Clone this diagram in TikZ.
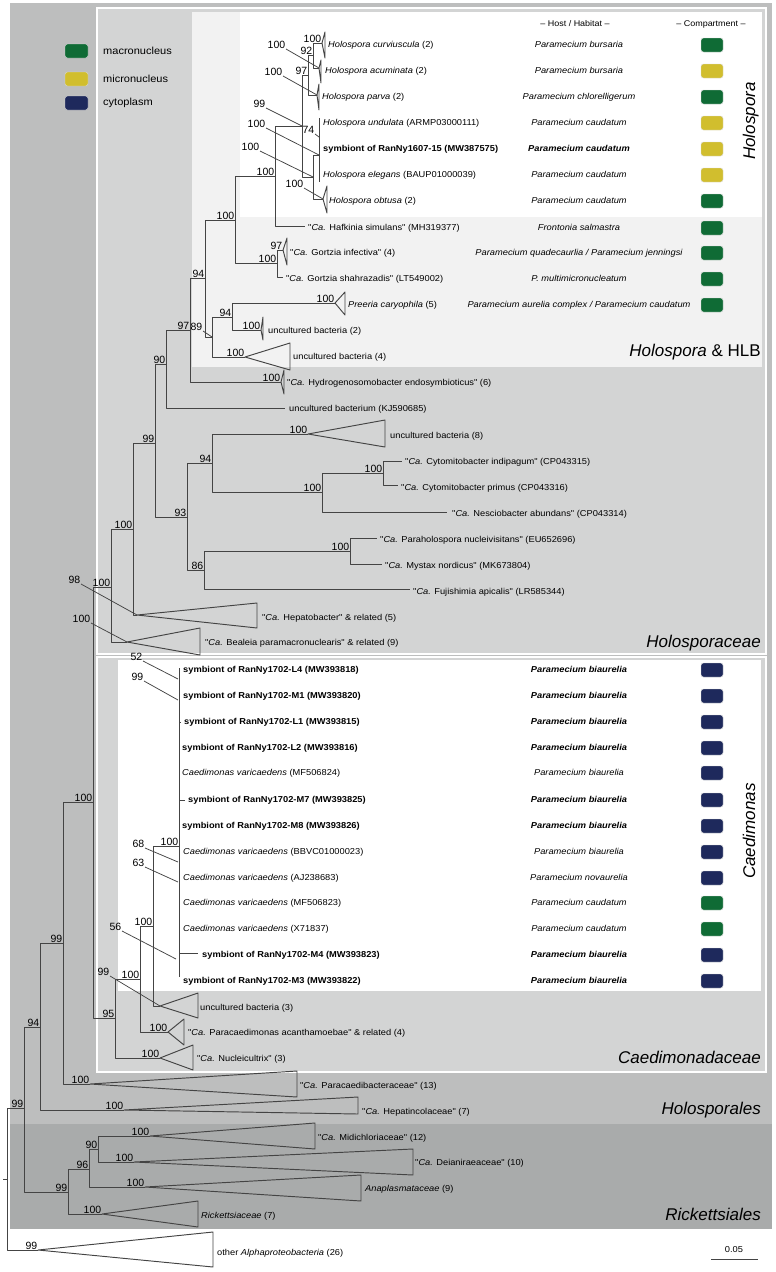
\documentclass[tikz,border=0pt]{standalone}
\usepackage{fontspec}
\setmainfont{Liberation Sans}
\newfontfamily\myleaf[FakeStretch=1.08]{Liberation Sans}
\newcommand\leaffont{\myleaf\fontsize{8.6}{10}\selectfont}
\newcommand\hdrfont{\myleaf\fontsize{8.3}{10}\selectfont}
\newcommand\supfont{\fontsize{10.5}{12}\selectfont}
\newcommand\bigfont{\fontsize{17}{20}\selectfont}
\newcommand\legfont{\myleaf\fontsize{10.2}{12}\selectfont}
\definecolor{cHol}{HTML}{BDBEBE}
\definecolor{cHpc}{HTML}{D3D4D4}
\definecolor{cHLB}{HTML}{F2F2F2}
\definecolor{cRick}{HTML}{A9ABAB}
\definecolor{linec}{HTML}{444444}
\definecolor{cmac}{HTML}{0F6B35}
\definecolor{cmic}{HTML}{D1BE2E}
\definecolor{ccyt}{HTML}{1E295C}
\begin{document}
\begin{tikzpicture}[x=1pt,y=-1pt,
  br/.style={draw=linec, line width=0.95pt, line join=round},
  ld/.style={draw=linec, line width=0.75pt},
  bs/.style={font=\supfont, inner sep=0.6pt, anchor=south east},
  lf/.style={font=\leaffont, anchor=west, inner sep=0pt, text height=6.3pt, text depth=1.8pt},
  hostt/.style={font=\leaffont\itshape, inner sep=0pt, text height=6.3pt, text depth=1.8pt},
  hostb/.style={font=\leaffont\itshape\bfseries, inner sep=0pt, text height=6.3pt, text depth=1.8pt},
  cbox/.style={rounded corners=2.5pt, minimum width=22pt, minimum height=14pt, inner sep=0pt, draw=black!15, line width=0.4pt},
  grp/.style={font=\bigfont, inner sep=0pt, anchor=base east},
  grpv/.style={font=\bigfont\itshape, inner sep=0pt, anchor=base, rotate=90},
  reg/.style={draw=white, line width=1.5pt}
]
\useasboundingbox (0,0) rectangle (776,1272);
% ---------- backgrounds
\fill[cHol] (10,3) rectangle (772,1124);
\fill[cRick] (10,1124) rectangle (772,1229);
\filldraw[reg, fill=cHpc] (97,8) rectangle (766,654);
\filldraw[reg, fill=cHpc] (97,657) rectangle (766,1072);
\fill[cHLB] (192,12) rectangle (762,367);
\fill[white] (240,12) rectangle (762,217);
\fill[white] (118,660) rectangle (761,991);

% ---------- coordinates
\coordinate (root) at (7,1179);
\coordinate (rootS) at (3,1179);
\coordinate (oA) at (38,1250);
\coordinate (nA) at (24,1108);
\coordinate (nHS) at (40,1027);
\coordinate (hepA) at (124,1110);
\coordinate (n99b) at (63,943);
\coordinate (pcA) at (90,1084);
\coordinate (n100c) at (93,802);
\coordinate (nHpc) at (111,587);
\coordinate (bealA) at (127,642);
\coordinate (n100d) at (133,529);
\coordinate (hepbA) at (137,615);
\coordinate (n99e) at (155,443);
\coordinate (n90) at (166,364);
\coordinate (tKJ) at (285,408);
\coordinate (n97) at (190,330);
\coordinate (hydro) at (281,382);
\coordinate (n94a) at (205,278);
\coordinate (n89) at (212,337);
\coordinate (n94b) at (232,317);
\coordinate (preA) at (335,303);
\coordinate (unc2) at (261,330);
\coordinate (unc4A) at (245,357);
\coordinate (n100f) at (235,220);
\coordinate (nGor) at (277,263);
\coordinate (gorI) at (283,250);
\coordinate (gorS) at (283,277);
\coordinate (n100g) at (275,176);
\coordinate (tHaf) at (305,226);
\coordinate (nHol) at (302,126);
\coordinate (n97h) at (308,75);
\coordinate (n92) at (313,55);
\coordinate (tCurv) at (322,43);
\coordinate (tAcum) at (319,68);
\coordinate (tParv) at (317,95);
\coordinate (nC) at (313,177);
\coordinate (nD) at (319,155);
\coordinate (nDt) at (319,118);
\coordinate (nDb) at (319,182);
\coordinate (c74) at (319,137);
\coordinate (tObt) at (323,199);
\coordinate (n93) at (187,517);
\coordinate (n94c) at (212,463);
\coordinate (unc8A) at (308,434);
\coordinate (n100h) at (322,492);
\coordinate (nCyt) at (383,473);
\coordinate (tInd) at (402,461);
\coordinate (tPri) at (398,485);
\coordinate (tNes) at (447,512);
\coordinate (n86) at (204,570);
\coordinate (n100i) at (350,551);
\coordinate (tPar) at (377,538);
\coordinate (tMys) at (382,564);
\coordinate (tFuj) at (410,589);
\coordinate (nCdc) at (115,1018);
\coordinate (n100j) at (140,979);
\coordinate (n100k) at (153,926);
\coordinate (nCae) at (179,846);
\coordinate (cTop) at (179,668);
\coordinate (cBot) at (179,977);
\coordinate (unc3A) at (160,1006);
\coordinate (paraA) at (168,1032);
\coordinate (nuclA) at (160,1058);
\coordinate (nRk) at (68,1192);
\coordinate (n96) at (89,1169);
\coordinate (n90b) at (98,1149);
\coordinate (midA) at (150,1136);
\coordinate (deiA) at (134,1162);
\coordinate (anaA) at (145,1187);
\coordinate (rickA) at (102,1214);
\coordinate (c52) at (178,679);
\coordinate (c99m) at (178,700);
\coordinate (c68) at (178,862);
\coordinate (c63) at (178,882);
\coordinate (c56) at (176,959);

% ---------- branches
\draw[br] (rootS) -- (root);
\draw[br] (root) |- (nA) (root) |- (oA);
\draw[br] (nA) |- (nHS) (nA) |- (nRk);
\draw[br] (nHS) |- (n99b) (nHS) |- (hepA);
\draw[br] (n99b) |- (n100c) (n99b) |- (pcA);
\draw[br] (n100c) |- (nHpc) (n100c) |- (nCdc);
\draw[br] (nHpc) |- (n100d) (nHpc) |- (bealA);
\draw[br] (n100d) |- (n99e) (n100d) |- (hepbA);
\draw[br] (n99e) |- (n90) (n99e) |- (n93);
\draw[br] (n90) |- (n97) (n90) |- (tKJ);
\draw[br] (n97) |- (n94a) (n97) |- (hydro);
\draw[br] (n94a) |- (n100f) (n94a) |- (n89);
\draw[br] (n89) |- (n94b) (n89) |- (unc4A);
\draw[br] (n94b) |- (preA) (n94b) |- (unc2);
\draw[br] (n100f) |- (n100g) (n100f) |- (nGor);
\draw[br] (nGor) |- (gorI) (nGor) |- (gorS);
\draw[br] (n100g) |- (nHol) (n100g) |- (tHaf);
\draw[br] (nHol) |- (n97h) (nHol) |- (nC);
\draw[br] (n97h) |- (n92) (n97h) |- (tParv);
\draw[br] (n92) |- (tCurv) (n92) |- (tAcum);
\draw[br] (nC) |- (nD) (nC) |- (tObt);
\draw[br] (nDt) -- (nDb);
\draw[br] (n93) |- (n94c) (n93) |- (n86);
\draw[br] (n94c) |- (unc8A) (n94c) |- (n100h);
\draw[br] (n100h) |- (nCyt) (n100h) |- (tNes);
\draw[br] (nCyt) |- (tInd) (nCyt) |- (tPri);
\draw[br] (n86) |- (n100i) (n86) |- (tFuj);
\draw[br] (n100i) |- (tPar) (n100i) |- (tMys);
\draw[br] (nCdc) |- (n100j) (nCdc) |- (nuclA);
\draw[br] (n100j) |- (n100k) (n100j) |- (paraA);
\draw[br] (n100k) |- (nCae) (n100k) |- (unc3A);
\draw[br] (cTop) -- (cBot);
\draw[br] (179,800) -- (185,800);
\draw[br] (179,953) -- (198,953);
\draw[br] (179,722) -- (181,722);
\draw[br] (nRk) |- (n96) (nRk) |- (rickA);
\draw[br] (n96) |- (n90b) (n96) |- (anaA);
\draw[br] (n90b) |- (midA) (n90b) |- (deiA);

% ---------- collapsed clades
\draw[br] (tCurv) -- (325,32) -- (325,58) -- cycle;
\draw[br] (tAcum) -- (321,60) -- (321,83) -- cycle;
\draw[br] (tParv) -- (319,84) -- (319,110) -- cycle;
\draw[br] (tObt) -- (327,186) -- (327,213) -- cycle;
\draw[br] (gorI) -- (287,238) -- (287,265) -- cycle;
\draw[br] (preA) -- (345,292) -- (345,315) -- cycle;
\draw[br] (unc2) -- (263,317) -- (263,340) -- cycle;
\draw[br] (unc4A) -- (290,343) -- (290,370) -- cycle;
\draw[br] (hydro) -- (284,370) -- (284,394) -- cycle;
\draw[br] (unc8A) -- (385,420) -- (385,447) -- cycle;
\draw[br] (hepbA) -- (257,603) -- (257,628) -- cycle;
\draw[br] (bealA) -- (200,628) -- (200,655) -- cycle;
\draw[br] (unc3A) -- (198,993) -- (198,1018) -- cycle;
\draw[br] (paraA) -- (184,1019) -- (184,1045) -- cycle;
\draw[br] (nuclA) -- (193,1045) -- (193,1070) -- cycle;
\draw[br] (pcA) -- (297,1071) -- (297,1097) -- cycle;
\draw[br] (hepA) -- (358,1097) -- (358,1114) -- cycle;
\draw[br] (midA) -- (315,1123) -- (315,1149) -- cycle;
\draw[br] (deiA) -- (413,1149) -- (413,1175) -- cycle;
\draw[br] (anaA) -- (361,1175) -- (361,1201) -- cycle;
\draw[br] (rickA) -- (198,1201) -- (198,1227) -- cycle;
\draw[br] (oA) -- (213,1232) -- (213,1267) -- cycle;

% ---------- support values
\node[bs] (s1) at (nA) {99};
\node[bs] (s2) at (nHS) {94};
\node[bs] (s3) at (n99b) {99};
\node[bs] (s4) at (n100c) {100};
\node[bs] (s5) at (nHpc) {100};
\node[bs] (s6) at (n100d) {100};
\node[bs] (s7) at (n99e) {99};
\node[bs] (s8) at (n90) {90};
\node[bs] (s9) at (n97) {97};
\node[bs] (s10) at (n94a) {94};
\node[bs] (s11) at (n94b) {94};
\node[bs] (s12) at (preA) {100};
\node[bs] (s13) at (unc2) {100};
\node[bs] (s14) at (unc4A) {100};
\node[bs] (s15) at (hydro) {100};
\node[bs] (s16) at (n100f) {100};
\node[bs] (s17) at (nGor) {100};
\node[bs] (s18) at (gorI) {97};
\node[bs] (s19) at (n100g) {100};
\node[bs] (s20) at (n97h) {97};
\node[bs] (s21) at (n92) {92};
\node[bs] (s22) at (tCurv) {100};
\node[bs] (s23) at (n93) {93};
\node[bs] (s24) at (n94c) {94};
\node[bs] (s25) at (unc8A) {100};
\node[bs] (s26) at (n100h) {100};
\node[bs] (s27) at (nCyt) {100};
\node[bs] (s28) at (n86) {86};
\node[bs] (s29) at (n100i) {100};
\node[bs] (s30) at (nCdc) {95};
\node[bs] (s31) at (n100j) {100};
\node[bs] (s32) at (n100k) {100};
\node[bs] (s33) at (nCae) {100};
\node[bs] (s34) at (paraA) {100};
\node[bs] (s35) at (nuclA) {100};
\node[bs] (s36) at (pcA) {100};
\node[bs] (s37) at (hepA) {100};
\node[bs] (s38) at (nRk) {99};
\node[bs] (s39) at (n96) {96};
\node[bs] (s40) at (n90b) {90};
\node[bs] (s41) at (midA) {100};
\node[bs] (s42) at (deiA) {100};
\node[bs] (s43) at (anaA) {100};
\node[bs] (s44) at (rickA) {100};
\node[bs] (s45) at (oA) {99};
% leader labels
\node[bs] (lAc) at (286,49) {100}; \draw[ld] (lAc.south east) -- (tAcum);
\node[bs] (lPa) at (283,76) {100}; \draw[ld] (lPa.south east) -- (tParv);
\node[bs] (lHol) at (266,108) {99}; \draw[ld] (lHol.south east) -- (nHol);
\node[bs] (l74) at (315,134) {74}; \draw[ld] (l74.south east) -- (c74);
\node[bs] (lD) at (266,128) {100}; \draw[ld] (lD.south east) -- (nD);
\node[bs] (lC) at (260,151) {100}; \draw[ld] (lC.south east) -- (nC);
\node[bs] (lOb) at (304,188) {100}; \draw[ld] (lOb.south east) -- (tObt);
\node[bs] (l89) at (203,331) {89}; \draw[ld] (l89.south east) -- (n89);
\node[bs] (l98) at (81,584) {98}; \draw[ld] (l98.south east) -- (hepbA);
\node[bs] (lBe) at (91,623) {100}; \draw[ld] (lBe.south east) -- (bealA);
\node[bs] (l52) at (143,661) {52}; \draw[ld] (l52.south east) -- (c52);
\node[bs] (l99m) at (144,681) {99}; \draw[ld] (l99m.south east) -- (c99m);
\node[bs] (l68) at (145,848) {68}; \draw[ld] (l68.south east) -- (c68);
\node[bs] (l63) at (145,867) {63}; \draw[ld] (l63.south east) -- (c63);
\node[bs] (l56) at (122,931) {56}; \draw[ld] (l56.south east) -- (c56);
\node[bs] (l99u) at (110,976) {99}; \draw[ld] (l99u.south east) -- (unc3A);

% ---------- leaf labels
\node[lf] (t1) at (328,45) {\textit{Holospora curviuscula} (2)};
\node[lf] (t2) at (325,71) {\textit{Holospora acuminata} (2)};
\node[lf] (t3) at (322,97) {\textit{Holospora parva} (2)};
\node[lf] (t4) at (323,123) {\textit{Holospora undulata} (ARMP03000111)};
\node[lf] (t5) at (323,149) {\textbf{symbiont of RanNy1607-15 (MW387575)}};
\node[lf] (t6) at (323,175) {\textit{Holospora elegans} (BAUP01000039)};
\node[lf] (t7) at (329,201) {\textit{Holospora obtusa} (2)};
\node[lf] (t8) at (308,228) {"\textit{Ca.} Hafkinia simulans" (MH319377)};
\node[lf] (t9) at (290,253) {"\textit{Ca.} Gortzia infectiva" (4)};
\node[lf] (t10) at (286,279) {"\textit{Ca.} Gortzia shahrazadis" (LT549002)};
\node[lf] (t11) at (348,305) {\textit{Preeria caryophila} (5)};
\node[lf] (t12) at (268,331) {uncultured bacteria (2)};
\node[lf] (t13) at (293,357) {uncultured bacteria (4)};
\node[lf] (t14) at (287,383) {"\textit{Ca.} Hydrogenosomobacter endosymbioticus" (6)};
\node[lf] (t15) at (289,409) {uncultured bacterium (KJ590685)};
\node[lf] (t16) at (390,436) {uncultured bacteria (8)};
\node[lf] (t17) at (405,462) {"\textit{Ca.} Cytomitobacter indipagum" (CP043315)};
\node[lf] (t18) at (401,488) {"\textit{Ca.} Cytomitobacter primus (CP043316)};
\node[lf] (t19) at (452,514) {"\textit{Ca.} Nesciobacter abundans" (CP043314)};
\node[lf] (t20) at (380,540) {"\textit{Ca.} Paraholospora nucleivisitans" (EU652696)};
\node[lf] (t21) at (385,566) {"\textit{Ca.} Mystax nordicus" (MK673804)};
\node[lf] (t22) at (413,592) {"\textit{Ca.} Fujishimia apicalis" (LR585344)};
\node[lf] (t23) at (262,618) {"\textit{Ca.} Hepatobacter" \& related (5)};
\node[lf] (t24) at (205,643) {"\textit{Ca.} Bealeia paramacronuclearis" \& related (9)};
\node[lf] (t25) at (183,670) {\textbf{symbiont of RanNy1702-L4 (MW393818)}};
\node[lf] (t26) at (183,696) {\textbf{symbiont of RanNy1702-M1 (MW393820)}};
\node[lf] (t27) at (184,722) {\textbf{symbiont of RanNy1702-L1 (MW393815)}};
\node[lf] (t28) at (182,748) {\textbf{symbiont of RanNy1702-L2 (MW393816)}};
\node[lf] (t29) at (182,773) {\textit{Caedimonas varicaedens} (MF506824)};
\node[lf] (t30) at (188,800) {\textbf{symbiont of RanNy1702-M7 (MW393825)}};
\node[lf] (t31) at (182,826) {\textbf{symbiont of RanNy1702-M8 (MW393826)}};
\node[lf] (t32) at (183,852) {\textit{Caedimonas varicaedens} (BBVC01000023)};
\node[lf] (t33) at (183,878) {\textit{Caedimonas varicaedens} (AJ238683)};
\node[lf] (t34) at (183,903) {\textit{Caedimonas varicaedens} (MF506823)};
\node[lf] (t35) at (183,929) {\textit{Caedimonas varicaedens} (X71837)};
\node[lf] (t36) at (202,955) {\textbf{symbiont of RanNy1702-M4 (MW393823)}};
\node[lf] (t37) at (183,981) {\textbf{symbiont of RanNy1702-M3 (MW393822)}};
\node[lf] (t38) at (200,1008) {uncultured bacteria (3)};
\node[lf] (t39) at (188,1033) {"\textit{Ca.} Paracaedimonas acanthamoebae" \& related (4)};
\node[lf] (t40) at (197,1059) {"\textit{Ca.} Nucleicultrix" (3)};
\node[lf] (t41) at (300,1086) {"\textit{Ca.} Paracaedibacteraceae" (13)};
\node[lf] (t42) at (362,1112) {"\textit{Ca.} Hepatincolaceae" (7)};
\node[lf] (t43) at (318,1138) {"\textit{Ca.} Midichloriaceae" (12)};
\node[lf] (t44) at (415,1163) {"\textit{Ca.} Deianiraeaceae" (10)};
\node[lf] (t45) at (365,1189) {\textit{Anaplasmataceae} (9)};
\node[lf] (t46) at (201,1216) {\textit{Rickettsiaceae} (7)};
\node[lf] (t47) at (217,1253) {other \textit{Alphaproteobacteria} (26)};

% ---------- headers
\node[font=\hdrfont, inner sep=0pt] (hh) at (575,24) {– Host / Habitat –};
\node[font=\hdrfont, inner sep=0pt] (hc) at (711,24) {– Compartment –};

% ---------- hosts
\node[hostt] (h1) at (579,45) {Paramecium bursaria};
\node[hostt] (h2) at (579,71) {Paramecium bursaria};
\node[hostt] (h3) at (579,97) {Paramecium chlorelligerum};
\node[hostt] (h4) at (579,123) {Paramecium caudatum};
\node[hostb] (h5) at (579,149) {Paramecium caudatum};
\node[hostt] (h6) at (579,175) {Paramecium caudatum};
\node[hostt] (h7) at (579,201) {Paramecium caudatum};
\node[hostt] (h8) at (579,228) {Frontonia salmastra};
\node[hostt] (h9) at (579,253) {Paramecium quadecaurlia / Paramecium jenningsi};
\node[hostt] (h10) at (579,279) {P. multimicronucleatum};
\node[hostt] (h11) at (579,305) {Paramecium aurelia complex / Paramecium caudatum};
\node[hostb] (h12) at (579,670) {Paramecium biaurelia};
\node[hostb] (h13) at (579,696) {Paramecium biaurelia};
\node[hostb] (h14) at (579,722) {Paramecium biaurelia};
\node[hostb] (h15) at (579,748) {Paramecium biaurelia};
\node[hostt] (h16) at (579,773) {Paramecium biaurelia};
\node[hostb] (h17) at (579,800) {Paramecium biaurelia};
\node[hostb] (h18) at (579,826) {Paramecium biaurelia};
\node[hostt] (h19) at (579,852) {Paramecium biaurelia};
\node[hostt] (h20) at (579,878) {Paramecium novaurelia};
\node[hostt] (h21) at (579,903) {Paramecium caudatum};
\node[hostt] (h22) at (579,929) {Paramecium caudatum};
\node[hostb] (h23) at (579,955) {Paramecium biaurelia};
\node[hostb] (h24) at (579,981) {Paramecium biaurelia};

% ---------- compartment boxes
\node[cbox, fill=cmac] (b1) at (712,45) {};
\node[cbox, fill=cmic] (b2) at (712,71) {};
\node[cbox, fill=cmac] (b3) at (712,97) {};
\node[cbox, fill=cmic] (b4) at (712,123) {};
\node[cbox, fill=cmic] (b5) at (712,149) {};
\node[cbox, fill=cmic] (b6) at (712,175) {};
\node[cbox, fill=cmac] (b7) at (712,201) {};
\node[cbox, fill=cmac] (b8) at (712,228) {};
\node[cbox, fill=cmac] (b9) at (712,253) {};
\node[cbox, fill=cmac] (b10) at (712,279) {};
\node[cbox, fill=cmac] (b11) at (712,305) {};
\node[cbox, fill=ccyt] (b12) at (712,670) {};
\node[cbox, fill=ccyt] (b13) at (712,696) {};
\node[cbox, fill=ccyt] (b14) at (712,722) {};
\node[cbox, fill=ccyt] (b15) at (712,748) {};
\node[cbox, fill=ccyt] (b16) at (712,773) {};
\node[cbox, fill=ccyt] (b17) at (712,800) {};
\node[cbox, fill=ccyt] (b18) at (712,826) {};
\node[cbox, fill=ccyt] (b19) at (712,852) {};
\node[cbox, fill=ccyt] (b20) at (712,878) {};
\node[cbox, fill=cmac] (b21) at (712,903) {};
\node[cbox, fill=cmac] (b22) at (712,929) {};
\node[cbox, fill=ccyt] (b23) at (712,955) {};
\node[cbox, fill=ccyt] (b24) at (712,981) {};

% ---------- legend
\node[cbox, fill=cmac, minimum width=23pt] (g1) at (76.5,51) {};
\node[cbox, fill=cmic, minimum width=23pt] (g2) at (76.5,79) {};
\node[cbox, fill=ccyt, minimum width=23pt] (g3) at (76.5,103) {};
\node[font=\legfont, anchor=west, inner sep=0pt] (gt1) at (103,51) {macronucleus};
\node[font=\legfont, anchor=west, inner sep=0pt] (gt2) at (103,79) {micronucleus};
\node[font=\legfont, anchor=west, inner sep=0pt] (gt3) at (103,103) {cytoplasm};

% ---------- group labels
\node[grpv] (G1) at (755,121) {Holospora};
\node[grpv] (G2) at (755,831) {Caedimonas};
\node[grp] (G3) at (761,356) {\textit{Holospora} \& HLB};
\node[grp] (G4) at (761,647) {\textit{Holosporaceae}};
\node[grp] (G5) at (761,1063) {\textit{Caedimonadaceae}};
\node[grp] (G6) at (761,1114) {\textit{Holosporales}};
\node[grp] (G7) at (761,1220) {\textit{Rickettsiales}};

% ---------- scale bar
\coordinate (sbL) at (711,1259);
\coordinate (sbR) at (758,1259);
\draw[br] (sbL) -- (sbR);
\node[font=\leaffont, inner sep=0pt] (sbt) at (734,1250) {0.05};
\end{tikzpicture}
\end{document}
